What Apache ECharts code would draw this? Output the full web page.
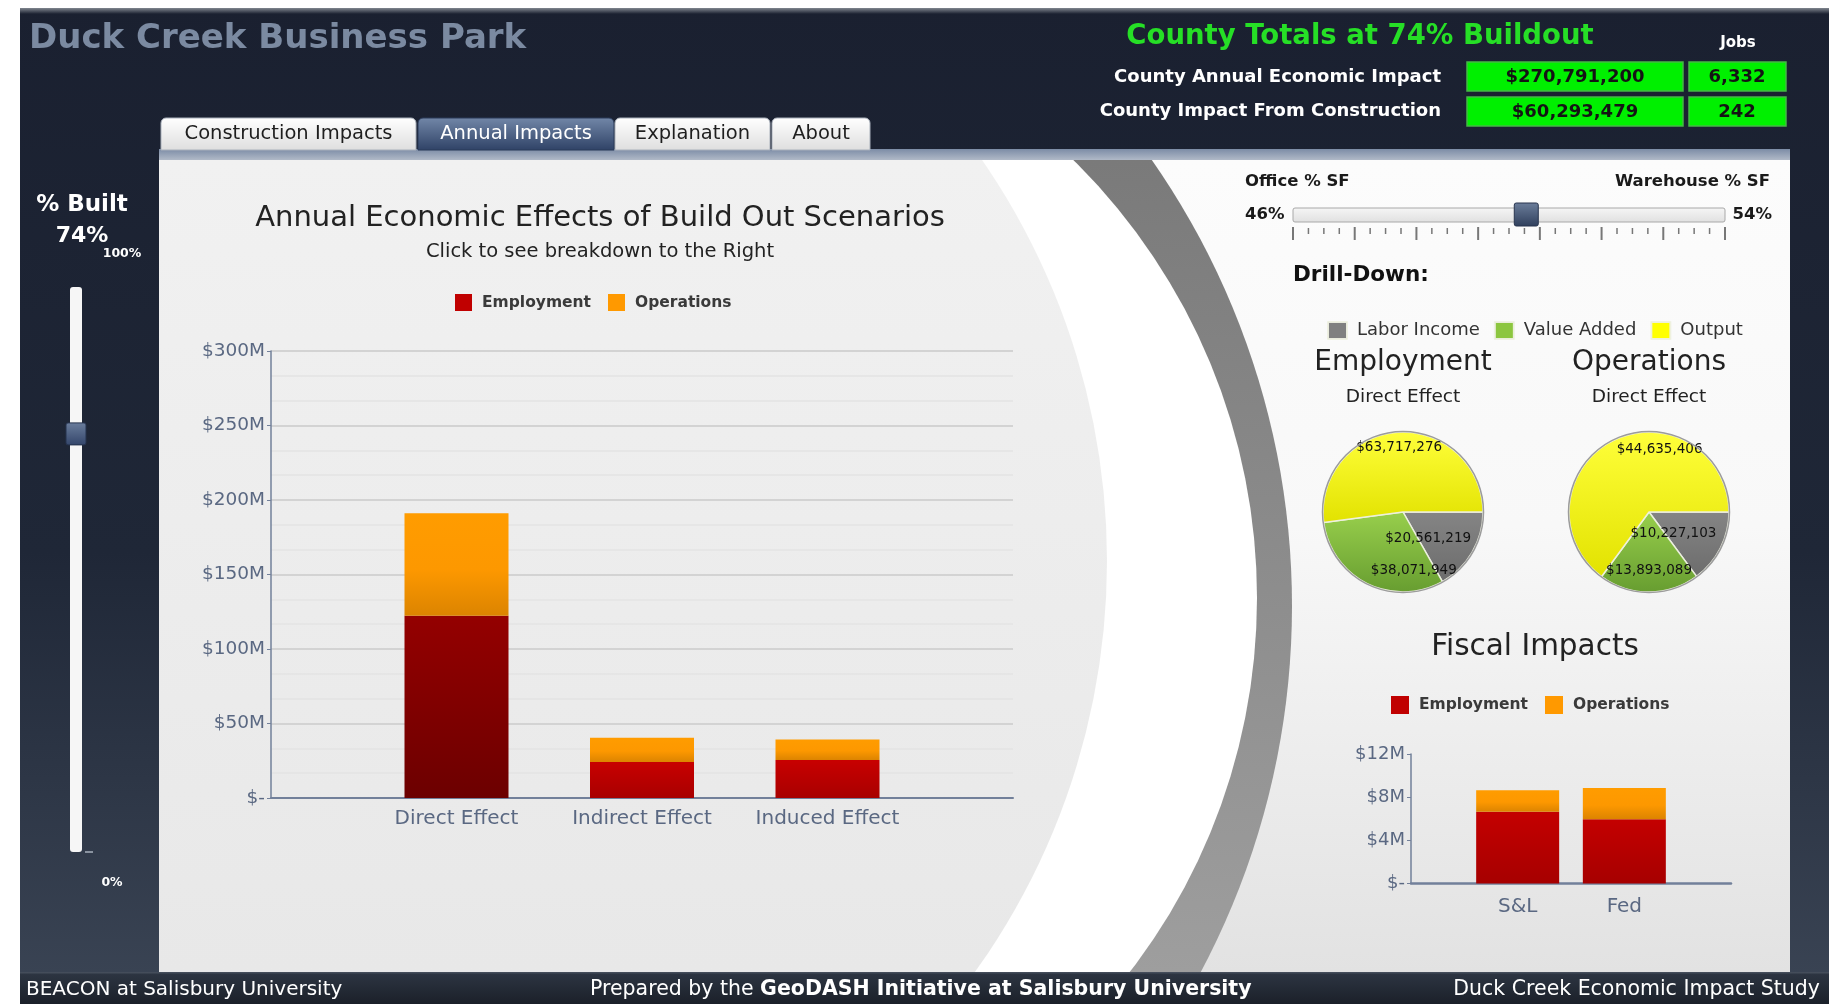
<!DOCTYPE html>
<html>
<head>
<meta charset="utf-8">
<title>Duck Creek Business Park</title>
<script src="https://cdn.jsdelivr.net/npm/echarts@6/dist/echarts.min.js"></script>
<style>
  html, body { margin: 0; padding: 0; background: #ffffff; }
  #chart { width: 1829px; height: 1004px; }
</style>
</head>
<body>
<div id="chart"></div>
<script>
// ---- Annual economic effects ($ millions) ----
const effectCategories = ['Direct Effect', 'Indirect Effect', 'Induced Effect'];
const employmentImpact = [122.35, 24.2, 25.5];
const operationsImpact = [68.76, 16.2, 13.8];
const selectedEffect = 0; // effect currently drilled into

// ---- Drill-down: direct effect breakdown ($) ----
const breakdownNames = ['Labor Income', 'Value Added', 'Output'];
const employmentDirect = [20561219, 38071949, 63717276];
const operationsDirect = [10227103, 13893089, 44635406];

// ---- Fiscal impacts ($ millions) ----
const fiscalCategories = ['S&L', 'Fed'];
const fiscalEmployment = [6.65, 5.95];
const fiscalOperations = [2.0, 2.9];

// ---- County totals and scenario settings ----
const builtPercent = 74;
const officeShare = 46;
const warehouseShare = 54;
const annualImpact = 270791200;
const annualJobs = 6332;
const constructionImpact = 60293479;
const constructionJobs = 242;

const chart = echarts.init(document.getElementById('chart'), null, { renderer: 'canvas', width: 1829, height: 1004 });
const FONT = '"DejaVu Sans", Verdana, sans-serif';

function grad(stops, x2 = 0, y2 = 1) {
  return new echarts.graphic.LinearGradient(0, 0, x2, y2, stops.map(([o, c]) => ({ offset: o, color: c })));
}
function gradGlobal(y0, y1, stops) {
  return new echarts.graphic.LinearGradient(0, y0, 0, y1, stops.map(([o, c]) => ({ offset: o, color: c })), true);
}
const darkFill = () => gradGlobal(0, 1004, [[0, '#1a2030'], [0.55, '#1f2737'], [1, '#3b4555']]);

function text(x, y, str, font, fill, align = 'left', z = 10) {
  return {
    type: 'text', x, y, z, silent: true,
    style: { text: str, font, fill, textAlign: align, align, textVerticalAlign: 'middle', verticalAlign: 'middle' }
  };
}
function rect(x, y, w, h, fill, z, extra = {}) {
  return { type: 'rect', z, silent: true, shape: { x, y, width: w, height: h, r: extra.r || 0 },
    style: { fill, stroke: extra.stroke || null, lineWidth: extra.lineWidth || 0 } };
}
const money = v => '$' + v.toLocaleString('en-US');

// ---- page furniture ----
const g = [];
g.push(rect(0, 0, 1829, 1004, '#ffffff', -30));
g.push(rect(20, 8, 1809, 996, darkFill(), -29));

// content panel with decorative arcs
g.push(rect(159, 160, 1631, 812, grad([[0, '#fcfcfc'], [0.45, '#f8f8f8'], [1, '#e2e2e2']]), -27));
g.push({ type: 'circle', z: -26, silent: true, shape: { cx: 512, cy: 606, r: 780 },
  style: { fill: gradGlobal(160, 972, [[0, '#7a7a7a'], [1, '#9e9e9e']]) } });
g.push({ type: 'circle', z: -25, silent: true, shape: { cx: 643, cy: 598, r: 614 }, style: { fill: '#ffffff' } });
g.push({ type: 'circle', z: -24, silent: true, shape: { cx: 401, cy: 561, r: 706 },
  style: { fill: gradGlobal(160, 972, [[0, '#f1f1f1'], [1, '#e8e8e8']]) } });

// frame around the panel
g.push(rect(0, 0, 1829, 8, '#ffffff', -23));
g.push(rect(0, 0, 20, 1004, '#ffffff', -23));
g.push(rect(20, 8, 1809, 141, darkFill(), -23));
g.push(rect(20, 149, 139, 823, darkFill(), -23));
g.push(rect(1790, 149, 39, 823, darkFill(), -23));
g.push(rect(20, 972, 1809, 32, grad([[0, '#4a5361'], [0.08, '#2c3441'], [1, '#1b2029']]), -23));
g.push(rect(20, 8, 1809, 6, grad([[0, '#80868f'], [1, '#1a2030']]), -22));
g.push(rect(159, 149, 1631, 11, grad([[0, '#7c8ca6'], [1, '#b0b9c7']]), -22));

// tabs
const tabs = [
  { label: 'Construction Impacts', x: 161, w: 255 },
  { label: 'Annual Impacts', x: 418, w: 196, active: true },
  { label: 'Explanation', x: 615, w: 155 },
  { label: 'About', x: 772, w: 98 }
];
tabs.forEach(t => {
  g.push(rect(t.x, 118, t.w, 32,
    t.active ? grad([[0, '#7287a8'], [1, '#2f4266']]) : grad([[0, '#ffffff'], [1, '#dedede']]),
    -21, { r: [5, 5, 0, 0], stroke: t.active ? '#2a3a58' : '#a9b0bb', lineWidth: 1 }));
  g.push(text(t.x + t.w / 2, 134, t.label, '19.5px ' + FONT, t.active ? '#ffffff' : '#1e1e1e', 'center'));
});

// header
g.push(text(29, 39, 'Duck Creek Business Park', 'bold 34px ' + FONT, '#7b8aa1'));
g.push(text(1360, 37, 'County Totals at ' + builtPercent + '% Buildout', 'bold 27.5px ' + FONT, '#26df26', 'center'));
g.push(text(1738, 43, 'Jobs', 'bold 15px ' + FONT, '#ffffff', 'center'));
g.push(text(1441, 77, 'County Annual Economic Impact', 'bold 18px ' + FONT, '#ffffff', 'right'));
g.push(text(1441, 111, 'County Impact From Construction', 'bold 18px ' + FONT, '#ffffff', 'right'));
[[62, annualImpact, annualJobs], [97, constructionImpact, constructionJobs]].forEach(([y, amt, jobs]) => {
  g.push(rect(1467, y, 216, 29, '#00f000', -20, { stroke: '#45b845', lineWidth: 1.5 }));
  g.push(rect(1689, y, 97, 29, '#00f000', -20, { stroke: '#45b845', lineWidth: 1.5 }));
  g.push(text(1575, y + 15, money(amt), 'bold 18px ' + FONT, '#141414', 'center'));
  g.push(text(1737, y + 15, jobs.toLocaleString('en-US'), 'bold 18px ' + FONT, '#141414', 'center'));
});

// % built slider (left)
g.push(text(82, 205, '% Built', 'bold 23px ' + FONT, '#ffffff', 'center'));
g.push(text(82, 236, builtPercent + '%', 'bold 22px ' + FONT, '#ffffff', 'center'));
g.push(text(122, 254, '100%', 'bold 12.5px ' + FONT, '#ffffff', 'center'));
g.push(text(112, 883, '0%', 'bold 12.5px ' + FONT, '#ffffff', 'center'));
g.push(rect(70, 287, 12, 565, '#f6f6f6', -20, { r: 3 }));
g.push({ type: 'line', z: -20, silent: true, shape: { x1: 85, y1: 852, x2: 93, y2: 852 }, style: { stroke: '#8a93a0', lineWidth: 2 } });
const thumbY = 852 - builtPercent / 100 * 565;
g.push(rect(66, thumbY - 11, 20, 22, grad([[0, '#6a7d9c'], [1, '#33456a']]), -19, { r: 2, stroke: '#25324d', lineWidth: 1 }));

// title block of the main chart
g.push(text(600, 218, 'Annual Economic Effects of Build Out Scenarios', '29px ' + FONT, '#222222', 'center'));
g.push(text(600, 252, 'Click to see breakdown to the Right', '19.5px ' + FONT, '#222222', 'center'));

// office / warehouse mix slider
g.push(text(1245, 182, 'Office % SF', 'bold 16.5px ' + FONT, '#1a1a1a'));
g.push(text(1770, 182, 'Warehouse % SF', 'bold 16.5px ' + FONT, '#1a1a1a', 'right'));
g.push(text(1245, 215, officeShare + '%', 'bold 16.5px ' + FONT, '#1a1a1a'));
g.push(text(1772, 215, warehouseShare + '%', 'bold 16.5px ' + FONT, '#1a1a1a', 'right'));
g.push(rect(1293, 208, 432, 14, grad([[0, '#f6f6f6'], [1, '#e0e0e0']]), -19, { r: 2, stroke: '#a8a8a8', lineWidth: 1 }));
for (let i = 0; i <= 28; i++) {
  const x = 1293 + i * 432 / 28;
  const major = i % 4 === 0;
  g.push({ type: 'line', z: -19, silent: true, shape: { x1: x, y1: major ? 227 : 228, x2: x, y2: major ? 240 : 234 },
    style: { stroke: '#777777', lineWidth: major ? 2 : 1.5 } });
}
const mixX = 1293 + warehouseShare / 100 * 432;
g.push(rect(mixX - 12, 203, 24, 23, grad([[0, '#6c7e9b'], [1, '#2f3f5c']]), -18, { r: 2, stroke: '#28354f', lineWidth: 1 }));

// drill-down captions
g.push(text(1293, 275, 'Drill-Down:', 'bold 21.5px ' + FONT, '#111111'));
g.push(text(1403, 363, 'Employment', '28px ' + FONT, '#222222', 'center'));
g.push(text(1649, 363, 'Operations', '28px ' + FONT, '#222222', 'center'));
g.push(text(1403, 397, 'Direct Effect', '18.5px ' + FONT, '#222222', 'center'));
g.push(text(1649, 397, 'Direct Effect', '18.5px ' + FONT, '#222222', 'center'));
[1403, 1649].forEach(cx => g.push({ type: 'circle', z: 10, silent: true, shape: { cx, cy: 512, r: 80.5 },
  style: { fill: null, stroke: '#9c9c9c', lineWidth: 1.5 } }));
g.push(text(1535, 647, 'Fiscal Impacts', '29.5px ' + FONT, '#222222', 'center'));

// footer
g.push(text(26, 990, 'BEACON at Salisbury University', '20px ' + FONT, '#ffffff'));
g.push({ type: 'text', x: 590, y: 990, z: 10, silent: true,
  style: { text: '{a|Prepared by the }{b|GeoDASH Initiative at Salisbury University}', textVerticalAlign: 'middle', verticalAlign: 'middle',
    rich: { a: { fill: '#ffffff', fontSize: 20.5, fontFamily: FONT }, b: { fill: '#ffffff', fontSize: 20.5, fontWeight: 'bold', fontFamily: FONT } } } });
g.push(text(1820, 990, 'Duck Creek Economic Impact Study', '20.5px ' + FONT, '#ffffff', 'right'));

// ---- series styling ----
const redFill = () => grad([[0, '#c80000'], [1, '#a80000']]);
const darkRedFill = () => grad([[0, '#940000'], [1, '#6c0000']]);
const orangeFill = () => grad([[0, '#ff9c00'], [0.55, '#fd9800'], [1, '#dc8400']]);
const axisColor = '#72809a';
const labelColor = '#5a6882';
const pieFills = [
  () => grad([[0, '#858585'], [1, '#6c6c6c']]),
  () => grad([[0, '#98cf4c'], [1, '#679d30']]),
  () => grad([[0, '#ffff3a'], [1, '#e2e200']])
];
// label nudges for the drill-down pies (dx, dy from the slice centre)
const employmentLabelNudge = [[-12, 5], [30, 20], [-1, -22]];
const operationsLabelNudge = [[-14, 2], [0, 16], [30, -24]];

const padded = arr => ['', ...arr, ''];
const padData = arr => [null, ...arr, null];

function pieSeries(name, cx, values, nudge) {
  return {
    type: 'pie', name, center: [cx, 512], radius: 80, startAngle: 0, clockwise: true,
    silent: true, animation: false,
    data: breakdownNames.map((n, i) => ({ name: n, value: values[i], itemStyle: { color: pieFills[i]() } })),
    itemStyle: { borderColor: 'rgba(238,240,225,0.95)', borderWidth: 1.5 },
    label: { show: true, position: 'inside', formatter: p => money(p.value), fontSize: 13.5, fontFamily: FONT, color: '#111111' },
    labelLine: { show: false },
    labelLayout: p => ({ dx: nudge[p.dataIndex][0], dy: nudge[p.dataIndex][1] })
  };
}

const legendText = { fontSize: 15.5, fontWeight: 'bold', fontFamily: FONT, color: '#3a3a3a', padding: [0, 0, 0, 5] };

const option = {
  animation: false,
  backgroundColor: 'transparent',
  graphic: { elements: g },
  legend: [
    { left: 455, top: 294, padding: 0, itemWidth: 17, itemHeight: 17, itemGap: 17, icon: 'rect', selectedMode: false,
      data: [{ name: 'Employment', itemStyle: { color: '#c00000' } }, { name: 'Operations', itemStyle: { color: '#ff9900' } }],
      textStyle: legendText },
    { left: 1327, top: 321, padding: 0, itemWidth: 19, itemHeight: 17, itemGap: 14, icon: 'rect', selectedMode: false,
      data: [{ name: 'Labor Income', itemStyle: { color: '#808080' } }, { name: 'Value Added', itemStyle: { color: '#8cc63f' } }, { name: 'Output', itemStyle: { color: '#ffff00' } }],
      textStyle: { fontSize: 18, fontFamily: FONT, color: '#333333', padding: [0, 0, 0, 5] } },
    { left: 1391, top: 696, padding: 0, itemWidth: 18, itemHeight: 18, itemGap: 17, icon: 'rect', selectedMode: false,
      data: [{ name: 'Employment', itemStyle: { color: '#c00000' } }, { name: 'Operations', itemStyle: { color: '#ff9900' } }],
      textStyle: legendText }
  ],
  grid: [
    { left: 271, top: 351, width: 742, height: 447, containLabel: false, outerBoundsMode: 'none' },
    { left: 1411, top: 754, width: 320, height: 129.5, containLabel: false, outerBoundsMode: 'none' }
  ],
  xAxis: [
    { type: 'category', gridIndex: 0, data: padded(effectCategories), boundaryGap: false,
      axisLine: { lineStyle: { color: axisColor, width: 2 } }, axisTick: { show: false },
      axisLabel: { color: labelColor, fontSize: 20, fontFamily: FONT, margin: 11, interval: 0 } },
    { type: 'category', gridIndex: 1, data: padded(fiscalCategories), boundaryGap: false,
      axisLine: { lineStyle: { color: axisColor, width: 2.5 } }, axisTick: { show: false },
      axisLabel: { color: labelColor, fontSize: 20, fontFamily: FONT, margin: 13, interval: 0 } }
  ],
  yAxis: [
    { type: 'value', gridIndex: 0, min: 0, max: 300, interval: 50,
      axisLine: { show: true, lineStyle: { color: axisColor, width: 1.5 } },
      axisTick: { show: true, length: 4, lineStyle: { color: axisColor } },
      axisLabel: { color: labelColor, fontSize: 18.5, fontFamily: FONT, margin: 6, formatter: v => v === 0 ? '$-' : '$' + v + 'M' },
      splitLine: { lineStyle: { color: '#d3d3d3', width: 2 } },
      minorTick: { show: false, splitNumber: 3 },
      minorSplitLine: { show: true, lineStyle: { color: '#e3e3e3', width: 1.5 } } },
    { type: 'value', gridIndex: 1, min: 0, max: 12, interval: 4,
      axisLine: { show: true, lineStyle: { color: axisColor, width: 1.5 } },
      axisTick: { show: true, length: 4, lineStyle: { color: axisColor } },
      axisLabel: { color: labelColor, fontSize: 18, fontFamily: FONT, margin: 6, formatter: v => v === 0 ? '$-' : '$' + v + 'M' },
      splitLine: { show: false } }
  ],
  series: [
    { type: 'bar', name: 'Employment', xAxisIndex: 0, yAxisIndex: 0, stack: 'annual', barWidth: 104,
      data: padData(employmentImpact.map((v, i) => i === selectedEffect ? { value: v, itemStyle: { color: darkRedFill() } } : v)),
      itemStyle: { color: redFill() } },
    { type: 'bar', name: 'Operations', xAxisIndex: 0, yAxisIndex: 0, stack: 'annual', barWidth: 104,
      data: padData(operationsImpact), itemStyle: { color: orangeFill() } },
    { type: 'bar', name: 'Employment', xAxisIndex: 1, yAxisIndex: 1, stack: 'fiscal', barWidth: 83,
      data: padData(fiscalEmployment), itemStyle: { color: grad([[0, '#c40000'], [1, '#a60000']]) } },
    { type: 'bar', name: 'Operations', xAxisIndex: 1, yAxisIndex: 1, stack: 'fiscal', barWidth: 83,
      data: padData(fiscalOperations), itemStyle: { color: orangeFill() } },
    pieSeries('Employment Direct Effect', 1403, employmentDirect, employmentLabelNudge),
    pieSeries('Operations Direct Effect', 1649, operationsDirect, operationsLabelNudge)
  ]
};

chart.setOption(option);
</script>
</body>
</html>
